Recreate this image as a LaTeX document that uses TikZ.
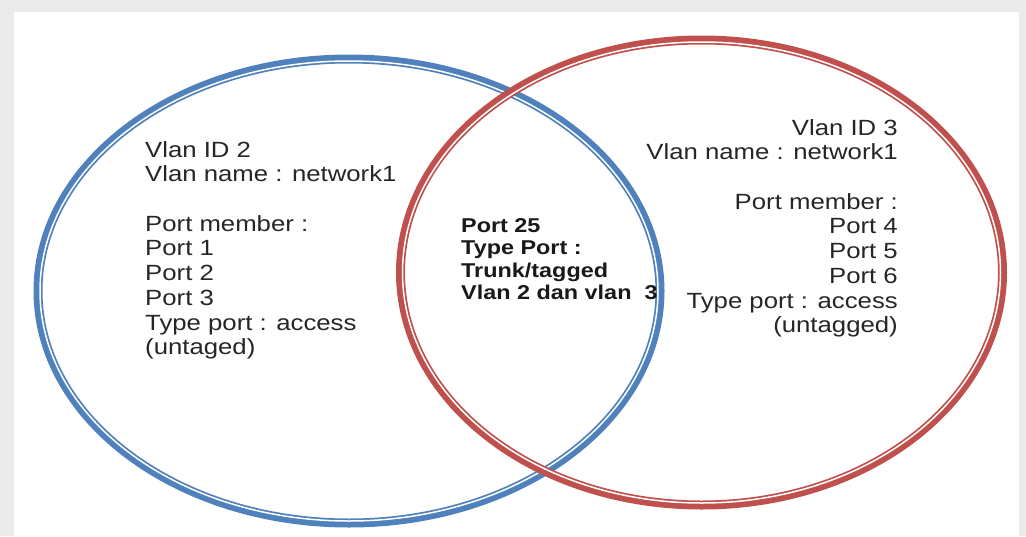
\documentclass[tikz,border=0pt]{standalone}
\usepackage{fontspec}
\setmainfont{Liberation Sans}[FakeStretch=1.17]
\usetikzlibrary{shapes.geometric,positioning}
\pgfdeclarelayer{background}
\pgfsetlayers{background,main}
\definecolor{vblue}{HTML}{4F81BD}
\definecolor{vred}{HTML}{C0504D}

\begin{document}
\begin{tikzpicture}[
      x=1pt, y=-1pt,
      ring/.style={ellipse,draw,line width=9pt,inner sep=0pt},
      gap/.style={white,line width=1.5pt},
      setinfo/.style={inner sep=0pt,text=black!85,font=\fontsize{22}{24.7}\selectfont},
      trunk/.style={inner sep=0pt,text=black!90,align=left,font=\fontsize{20}{22.5}\selectfont\bfseries}
    ]
    \useasboundingbox (0,0) rectangle (1026,536);

    % vlan 2
    \node[ring,draw=vblue,minimum width=622pt,minimum height=464pt] (vlanA) at (349,291) {};
    \draw[gap] (vlanA.center) ellipse [x radius=309pt, y radius=230pt];

    % vlan 3
    \node[ring,draw=vred,minimum width=602pt,minimum height=465pt] (vlanB) at (701.5,272.5) {};
    \draw[gap] (vlanB.center) ellipse [x radius=299pt, y radius=230.5pt];

    % the texts
    \node[setinfo,align=left,anchor=north west] (infoA) at (145,141)
      {Vlan ID 2\\Vlan name : network1\\[24.7pt]Port member :\\Port 1\\Port 2\\Port 3\\Type port : access\\(untaged)};
    \node[setinfo,align=right,anchor=north east] (infoB) at (898,119)
      {Vlan ID 3\\Vlan name : network1\\[24.7pt]Port member :\\Port 4\\Port 5\\Port 6\\Type port : access\\(untagged)};
    \node[trunk,anchor=north west] (infoAB) at (461,218)
      {Port 25\\Type Port :\\Trunk/tagged\\Vlan 2 dan vlan\ \ 3};

    % the frame
    \begin{pgfonlayer}{background}
      \fill[black!8] (0,0) rectangle (1026,536);
      \fill[white] (14,12) rectangle (1019,536);
    \end{pgfonlayer}
    \end{tikzpicture}
\end{document}
